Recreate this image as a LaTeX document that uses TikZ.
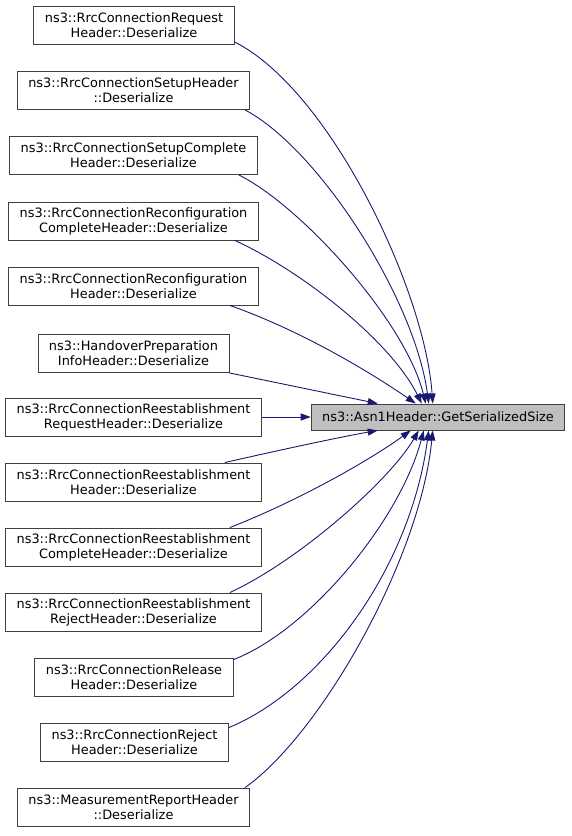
\documentclass[tikz,border=0pt]{standalone}
\usepackage{fontspec}
\setmainfont{DejaVu Sans}
\usetikzlibrary{arrows.meta}
\definecolor{edgeblue}{HTML}{191970}
\definecolor{boxline}{HTML}{404040}
\definecolor{boxgray}{HTML}{BFBFBF}
\tikzset{
    fn/.style={draw=boxline, line width=0.9pt, fill=white, align=center, inner xsep=11pt, inner ysep=2pt,
        minimum height=38pt, font=\fontsize{12.9}{15}\selectfont},
    target/.style={fn, fill=boxgray, minimum height=26pt},
    link/.style={draw=edgeblue, line width=0.9pt, -{Triangle[length=10pt,width=7pt]}}
}
\begin{document}
\begin{tikzpicture}[x=1pt, y=-1pt]
        \useasboundingbox (0,0) rectangle (571,836);

        \node[target] (tgt) at (438, 417) {ns3::Asn1Header::GetSerializedSize};

        \node[fn] (n1) at (134, 25.5) {ns3::RrcConnectionRequest\\Header::Deserialize};
        \node[fn] (n2) at (133.5, 90.5) {ns3::RrcConnectionSetupHeader\\::Deserialize};
        \node[fn] (n3) at (133.5, 155.5) {ns3::RrcConnectionSetupComplete\\Header::Deserialize};
        \node[fn] (n4) at (133.5, 221) {ns3::RrcConnectionReconfiguration\\CompleteHeader::Deserialize};
        \node[fn] (n5) at (133.5, 286) {ns3::RrcConnectionReconfiguration\\Header::Deserialize};
        \node[fn] (n6) at (133.5, 353.5) {ns3::HandoverPreparation\\InfoHeader::Deserialize};
        \node[fn] (n7) at (133.5, 417) {ns3::RrcConnectionReestablishment\\RequestHeader::Deserialize};
        \node[fn] (n8) at (133.5, 482) {ns3::RrcConnectionReestablishment\\Header::Deserialize};
        \node[fn] (n9) at (133.5, 547) {ns3::RrcConnectionReestablishment\\CompleteHeader::Deserialize};
        \node[fn] (n10) at (133.5, 612) {ns3::RrcConnectionReestablishment\\RejectHeader::Deserialize};
        \node[fn] (n11) at (134, 677) {ns3::RrcConnectionRelease\\Header::Deserialize};
        \node[fn] (n12) at (134.5, 742) {ns3::RrcConnectionReject\\Header::Deserialize};
        \node[fn] (n13) at (133.5, 807) {ns3::MeasurementReportHeader\\::Deserialize};

        \draw[link] ([yshift=3pt]n1.south east) .. controls (330,90) and (425,290) .. ([xshift=122pt]tgt.north west);
        \draw[link] ([xshift=-5pt]n2.south east) .. controls (320,150) and (415,300) .. ([xshift=118pt]tgt.north west);
        \draw[link] ([xshift=-19pt]n3.south east) .. controls (300,205) and (405,320) .. ([xshift=115pt]tgt.north west);
        \draw[link] ([xshift=-24pt]n4.south east) .. controls (300,270) and (390,340) .. ([xshift=111pt]tgt.north west);
        \draw[link] ([xshift=-29pt]n5.south east) .. controls (300,330) and (370,372) .. ([xshift=105pt]tgt.north west);
        \draw[link] (n6.south east) -- ([xshift=67pt]tgt.north west);
        \draw[link] (n7) -- (tgt);
        \draw[link] ([xshift=-37pt]n8.north east) .. controls (280,450) and (340,437) .. ([xshift=67pt]tgt.south west);
        \draw[link] ([xshift=-32pt]n9.north east) .. controls (300,500) and (370,460) .. ([xshift=100pt]tgt.south west);
        \draw[link] ([xshift=-32pt]n10.north east) .. controls (300,560) and (390,480) .. ([xshift=108pt]tgt.south west);
        \draw[link] ([yshift=-2pt]n11.north east) .. controls (310,630) and (400,520) .. ([xshift=113pt]tgt.south west);
        \draw[link] ([yshift=-5pt]n12.north east) .. controls (320,690) and (410,570) .. ([xshift=118pt]tgt.south west);
        \draw[link] ([xshift=-5pt]n13.north east) .. controls (320,735) and (420,560) .. ([xshift=122pt]tgt.south west);
\end{tikzpicture}
\end{document}
